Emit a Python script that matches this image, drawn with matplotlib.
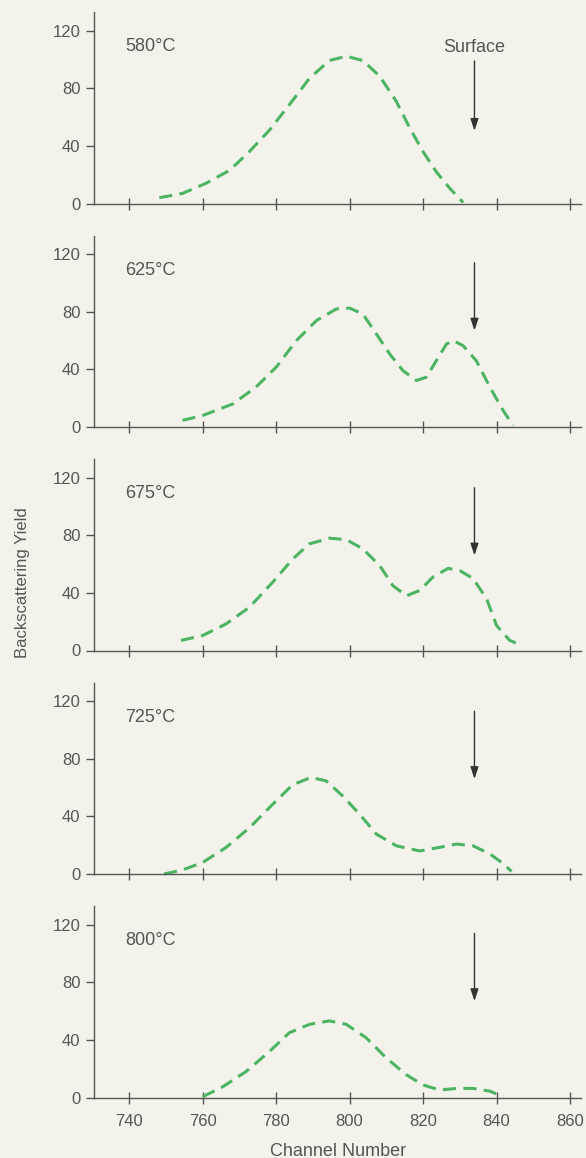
import matplotlib
matplotlib.use('Agg')
import matplotlib.pyplot as plt

plt.rcParams['font.family'] = ['Liberation Sans', 'DejaVu Sans']

temps = ['580°C', '625°C', '675°C', '725°C', '800°C']

# channel numbers / yields
ch_580 = [748.2, 754.5, 760.9, 767.3, 772.7, 778.2, 783.6, 789.1, 794.5, 799.1,
          803.6, 808.2, 812.7, 816.4, 820.0, 823.6, 827.3, 830.9]
y_580 = [4, 7, 14, 23, 36, 51, 68.6, 87, 99.3, 102.3,
         99.3, 88.4, 71, 52.3, 36, 22, 10.5, 0.7]

ch_625 = [754.5, 760.0, 768.2, 774.5, 780.0, 785.5, 791.0, 796.4, 800.0, 803.6,
          807.3, 810.9, 814.5, 818.2, 820.9, 823.6, 826.4, 828.2, 830.9, 834.5,
          838.2, 841.8, 844.5]
y_625 = [4.6, 8, 16, 27.7, 41.5, 60, 74, 82, 82.6, 78.5,
         64.6, 50.8, 39.2, 32.3, 34.6, 46, 57.7, 60, 56.5, 46,
         27.7, 11.5, 1]

ch_675 = [754.1, 760.0, 766.4, 772.7, 779.1, 784.5, 789.0, 794.5, 799.1, 803.6,
          808.2, 811.8, 815.5, 819.1, 822.7, 826.8, 830.0, 833.6, 837.3, 840.0,
          843.6, 846.8]
y_675 = [7, 10.4, 18.5, 30, 47.5, 63.5, 74, 78, 77, 70.6,
         59, 45, 38, 41.7, 51, 57, 55.5, 50, 36, 17.4,
         7, 3.5]

ch_725 = [749.5, 754.5, 760.0, 766.4, 772.7, 779.1, 784.5, 789.5, 793.6, 798.2,
          802.7, 807.3, 812.7, 819.1, 824.5, 829.1, 833.6, 838.2, 841.4, 844.1]
y_725 = [0, 2.8, 8, 18.5, 32, 48.5, 62, 67, 64.7, 54,
         41.6, 27.7, 19.6, 16, 18.5, 20.8, 19.6, 13.9, 8, 1.8]

ch_800 = [760.0, 765.5, 771.8, 778.2, 783.6, 789.1, 794.5, 799.1, 804.5, 810.0,
          815.5, 820.0, 824.5, 829.1, 833.6, 838.2, 841.8]
y_800 = [0.5, 7.5, 18, 32, 45, 50.8, 53.2, 50.8, 41.5, 27.4,
         15.7, 8.7, 5.2, 6.3, 6.3, 4.4, 0.5]

channels = [ch_580, ch_625, ch_675, ch_725, ch_800]
yields = [y_580, y_625, y_675, y_725, y_800]

surface_ch = 834
arrow_top = [99, 114, 113, 113, 114]
arrow_tip = [50.5, 67, 66, 66, 67]

xticks = [740, 760, 780, 800, 820, 840, 860]
yticks = [0, 40, 80, 120]

bg = '#f4f3eb'
grey = '#555555'
green = '#4cb463'

W, H = 586, 1158
fig = plt.figure(figsize=(W / 100, H / 100), dpi=100, facecolor=bg)

left = 94.3 / W
width = (581 - 94.3) / W
ax_h = 191.5 / H

for i in range(5):
    zero_px = 203.5 + 223.5 * i
    ax = fig.add_axes([left, 1 - zero_px / H, width, ax_h])
    ax.set_facecolor(bg)
    ax.plot(channels[i], yields[i], color=green, lw=2.2, dashes=(4.3, 2.4),
            clip_on=False, solid_capstyle='butt')
    ax.set_xlim(730.5, 863)
    ax.set_ylim(0, 133)
    for s in ['top', 'right']:
        ax.spines[s].set_visible(False)
    for s in ['left', 'bottom']:
        ax.spines[s].set_color(grey)
        ax.spines[s].set_linewidth(1.0)
    ax.set_xticks(xticks)
    ax.set_yticks(yticks)
    ax.tick_params(axis='y', direction='out', length=6, width=1, color=grey,
                   labelcolor=grey, labelsize=12, pad=4)
    ax.tick_params(axis='x', direction='inout', length=8, width=1, color=grey,
                   labelcolor=grey, labelsize=12, pad=8)
    if i < 4:
        ax.tick_params(axis='x', labelbottom=False)
    ax.text(739, 109, temps[i], color=grey, fontsize=13, va='center', ha='left')
    ax.annotate('', xy=(surface_ch, arrow_tip[i]), xytext=(surface_ch, arrow_top[i]),
                arrowprops=dict(arrowstyle='-|>,head_length=0.6,head_width=0.2',
                                color='#333333', lw=1.0, mutation_scale=12,
                                shrinkA=0, shrinkB=0))
    if i == 0:
        ax.text(surface_ch, 108.6, 'Surface', color=grey, fontsize=13,
                ha='center', va='center')
    if i == 4:
        ax.set_xlabel('Channel Number', color=grey, fontsize=13, labelpad=10)

fig.text(22.7 / W, 1 - 583 / H, 'Backscattering Yield', rotation=90, color=grey,
         fontsize=12, ha='center', va='center')

fig.savefig('out.png', dpi=100, facecolor=bg)
